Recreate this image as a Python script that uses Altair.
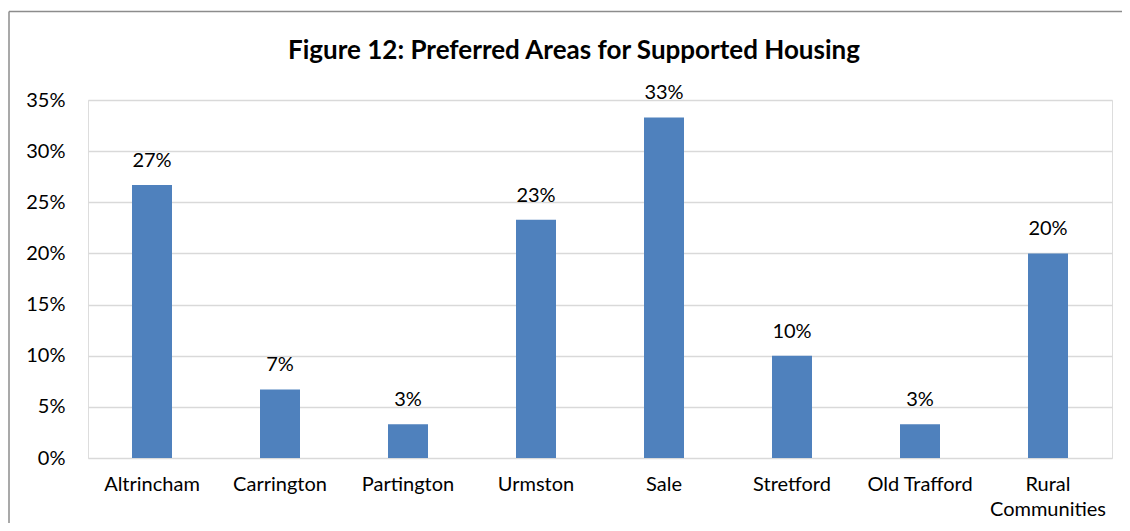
import altair as alt
import pandas as pd

areas = ["Altrincham", "Carrington", "Partington", "Urmston", "Sale",
         "Stretford", "Old Trafford", "Rural Communities"]
shares = [0.267, 0.067, 0.033, 0.233, 0.333, 0.100, 0.033, 0.200]
y_ticks = [0, 0.05, 0.10, 0.15, 0.20, 0.25, 0.30, 0.35]
title_text = "Figure 12: Preferred Areas for Supported Housing"

df = pd.DataFrame({"area": areas, "share": shares})

FONT = "Lato"
W, H = 1024, 358

x_enc = alt.X("area:N", sort=areas, title=None,
              scale=alt.Scale(paddingInner=0, paddingOuter=0),
              axis=alt.Axis(labelAngle=0, domain=False, ticks=False,
                            labelFont=FONT, labelFontSize=20, labelColor="#000",
                            labelPadding=16, labelLineHeight=25,
                            labelExpr="datum.label == 'Rural Communities' ? ['Rural', 'Communities'] : datum.label"))
y_enc = alt.Y("share:Q", title=None,
              scale=alt.Scale(domain=[0, 0.35], nice=False),
              axis=alt.Axis(values=y_ticks, format=".0%", domain=False, ticks=False,
                            labelFont=FONT, labelFontSize=20, labelColor="#000",
                            labelPadding=23, gridColor="#d9d9d9", gridWidth=1.5))

bars = alt.Chart(df).mark_bar(size=40, color="#4f81bd").encode(x=x_enc, y=y_enc)

labels = alt.Chart(df).mark_text(font=FONT, fontSize=20, color="#000",
                                 baseline="alphabetic", dy=-18).encode(
    x=alt.X("area:N", sort=areas),
    y="share:Q",
    text=alt.Text("share:Q", format=".0%"),
)

title = alt.Chart(pd.DataFrame({"t": [title_text]})).mark_text(
    font=FONT, fontSize=26, fontWeight="bold", color="#000",
    baseline="alphabetic", align="center").encode(
    text="t:N", x=alt.value(486), y=alt.value(-41.5))

one = pd.DataFrame({"b": [0]})
border_top = alt.Chart(one).mark_rule(color="#8c8c8c", strokeWidth=1.5).encode(
    x=alt.value(-79), x2=alt.value(W + 10), y=alt.value(-88.5))
border_left = alt.Chart(one).mark_rule(color="#8c8c8c", strokeWidth=1.5).encode(
    x=alt.value(-79), y=alt.value(-88.5), y2=alt.value(H + 65))

chart = alt.layer(border_top, border_left, bars, labels, title).properties(
    width=W, height=H,
    autosize=alt.AutoSizeParams(type="none"),
    padding={"left": 80, "top": 92, "right": 10, "bottom": 65},
).configure_view(stroke=None).configure(background="white")

chart.save("out.html", embed_options={"renderer": "svg", "actions": False})
